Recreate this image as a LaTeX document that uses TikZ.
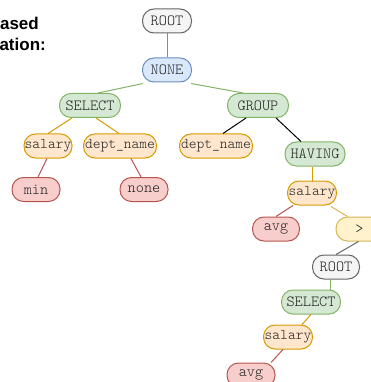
\documentclass[tikz,border=0pt]{standalone}
\usepackage{fontspec}
\setmainfont{Liberation Sans}
\newfontfamily\monof{Latin Modern Mono Light}
\definecolor{grayF}{HTML}{F5F5F5}\definecolor{grayS}{HTML}{666666}
\definecolor{blueF}{HTML}{DAE8FC}\definecolor{blueS}{HTML}{6C8EBF}
\definecolor{greenF}{HTML}{D5E8D4}\definecolor{greenS}{HTML}{82B366}
\definecolor{orangeF}{HTML}{FFE6CC}\definecolor{orangeS}{HTML}{D79B00}
\definecolor{redF}{HTML}{F8CECC}\definecolor{redS}{HTML}{B85450}
\definecolor{yellowF}{HTML}{FFF2CC}\definecolor{yellowS}{HTML}{D6B656}
\definecolor{txt}{HTML}{222222}
\begin{document}
\begin{tikzpicture}[x=1pt,y=-1pt,
  tn/.style={rounded corners=11.5pt, minimum height=24pt, inner sep=0pt, text=txt,
    font=\monof\fontsize{15.5}{15}\selectfont, line width=1pt},
  small/.style={font=\monof\fontsize{14.8}{15}\selectfont},
  ngray/.style={tn, fill=grayF, draw=grayS},
  nblue/.style={tn, fill=blueF, draw=blueS},
  ngreen/.style={tn, fill=greenF, draw=greenS},
  norange/.style={tn, fill=orangeF, draw=orangeS, small},
  nred/.style={tn, fill=redF, draw=redS},
  nyellow/.style={tn, fill=yellowF, draw=yellowS},
  e/.style={line width=1pt},
  ttl/.style={font=\bfseries\fontsize{17}{20}\selectfont, inner sep=0pt}]
\useasboundingbox (0,0) rectangle (371,382);
\clip (0,0) rectangle (371,382);
\node[ttl, anchor=base east] (t1) at (39,30) {ased};
\node[ttl, anchor=base east] (t2) at (46,51) {ation:};
% nodes
\node[ngray, minimum width=49pt] (root1) at (167,21) {ROOT};
\node[nblue, minimum width=49pt] (none1) at (167,70) {NONE};
\node[ngreen, minimum width=61pt] (sel1) at (90,105.5) {SELECT};
\node[ngreen, minimum width=61pt] (group) at (258,105.5) {GROUP};
\node[norange, minimum width=48pt] (sal1) at (48,146) {salary};
\node[norange, minimum width=73pt] (dept1) at (120,146) {dept\_name};
\node[norange, minimum width=73pt] (dept2) at (216,146) {dept\_name};
\node[ngreen, minimum width=60pt] (having) at (315,154) {HAVING};
\node[nred, minimum width=48pt] (min) at (36,189.5) {min};
\node[nred, minimum width=48pt] (nonel) at (144,189.5) {none};
\node[norange, minimum width=49pt] (sal2) at (312,193) {salary};
\node[nred, minimum width=47pt] (avg1) at (276,229) {avg};
\node[nyellow, minimum width=47pt] (gt) at (359.5,229) {>};
\node[ngray, minimum width=47pt] (root2) at (336,267) {ROOT};
\node[ngreen, minimum width=59pt] (sel2) at (311,302) {SELECT};
\node[norange, minimum width=49pt] (sal3) at (288,337) {salary};
\node[nred, minimum width=48pt] (avg2) at (251,375) {avg};
% edges
\draw[e, blueS] (root1.south) -- (none1.north);
\draw[e, greenS] ([xshift=1pt,yshift=-1pt]none1.south west) -- ([xshift=8pt]sel1.north);
\draw[e, greenS] ([xshift=-1pt,yshift=-1pt]none1.south east) -- ([xshift=-15pt]group.north);
\draw[e, orangeS] ([xshift=-18pt]sel1.south) -- (sal1.north);
\draw[e, orangeS] ([xshift=6pt]sel1.south) -- ([xshift=-1pt]dept1.north);
\draw[e, black] ([xshift=-12pt]group.south) -- ([xshift=7pt]dept2.north);
\draw[e, black] ([xshift=18pt]group.south) -- ([xshift=-14pt]having.north);
\draw[e, redS] ([xshift=-1pt]sal1.south) -- ([xshift=2pt]min.north);
\draw[e, redS] ([xshift=11pt]dept1.south) -- ([xshift=-3pt]nonel.north);
\draw[e, orangeS] (having.south -| sal2.north) -- (sal2.north);
\draw[e, redS] ([xshift=-19pt]sal2.south) -- (avg1.north);
\draw[e, yellowS] ([xshift=19pt,yshift=-1pt]sal2.south) -- ([xshift=-12pt]gt.north);
\draw[e, grayS] ([xshift=-1pt]gt.south) -- (root2.north);
\draw[e, greenS] ([xshift=-6pt]root2.south) -- ([xshift=19pt]sel2.north);
\draw[e, orangeS] (sel2.south) -- ([xshift=14pt]sal3.north);
\draw[e, redS] ([xshift=-5pt]sal3.south) -- ([xshift=20pt]avg2.north);
\end{tikzpicture}
\end{document}
